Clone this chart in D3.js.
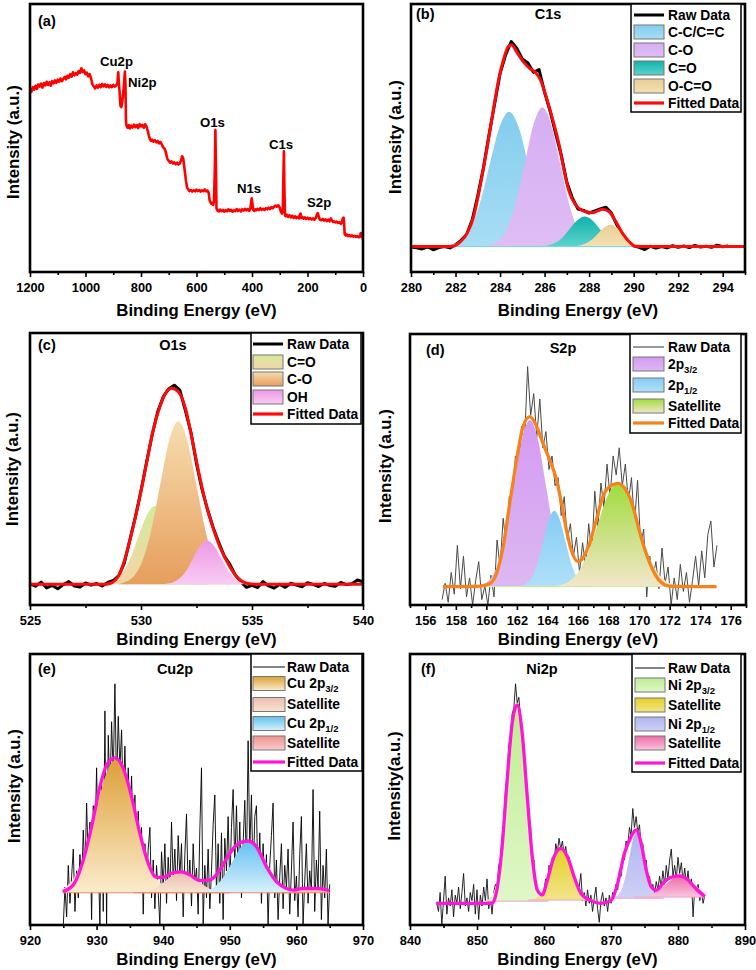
<!DOCTYPE html>
<html><head><meta charset="utf-8">
<script src="https://cdn.jsdelivr.net/npm/d3@7"></script>
<style>
body{margin:0;background:#fff}
svg{display:block;font-family:"Liberation Sans",Arial,sans-serif;font-weight:bold}
</style></head><body>
<svg id="fig" width="756" height="970"></svg>
<script>
// ================= DATA =================
// (a) survey spectrum: [binding energy, intensity]
const surveyPoints = [[1200,68.5],[1195,67.2],[1190,69.0],[1185,68.0],[1180,69.5],[1175,68.3],[1170,70.0],[1165,69.2],[1160,70.3],[1155,68.8],[1150,70.5],[1145,69.6],[1140,71.0],[1135,69.8],[1130,70.8],[1125,69.5],[1120,71.2],[1115,70.4],[1110,71.5],[1105,70.6],[1100,71.8],[1095,71.0],[1090,72.2],[1085,71.2],[1080,72.0],[1075,72.8],[1070,71.9],[1065,73.2],[1060,72.5],[1055,73.8],[1050,72.9],[1045,74.5],[1040,73.4],[1035,74.2],[1030,73.6],[1025,75.0],[1020,74.3],[1015,76.0],[1010,74.6],[1005,75.2],[1000,73.8],[995,74.4],[990,73.0],[985,73.8],[980,72.2],[975,70.0],[970,69.2],[965,68.5],[960,69.6],[955,68.8],[950,69.9],[945,69.0],[940,70.2],[935,69.3],[930,70.0],[925,69.1],[920,69.8],[915,68.9],[910,69.6],[905,69.0],[900,69.8],[895,69.2],[890,69.5],[885,70.5],[882,74.5],[880,71.0],[877,67.0],[874,62.0],[871,61.5],[868,63.0],[865,66.0],[862,69.0],[860,72.0],[858,74.8],[856,70.0],[854,56.0],[852,54.5],[848,53.8],[844,54.8],[840,53.6],[835,54.6],[830,53.9],[825,55.0],[820,54.1],[815,54.8],[810,53.7],[805,55.2],[800,54.3],[795,54.9],[790,53.8],[785,55.1],[780,54.2],[776,52.8],[772,51.0],[768,49.6],[764,48.9],[760,49.4],[755,48.6],[750,49.2],[745,48.4],[740,48.9],[735,48.0],[730,48.5],[725,47.6],[720,46.5],[715,46.0],[712,45.2],[708,43.5],[705,42.2],[700,41.5],[695,40.8],[690,41.3],[685,40.5],[680,40.9],[675,40.2],[670,40.8],[665,40.1],[660,40.6],[655,41.8],[652,43.2],[648,42.5],[645,40.0],[642,37.5],[638,34.0],[634,31.5],[630,30.8],[625,30.2],[620,30.6],[615,30.0],[610,30.5],[605,30.1],[600,30.7],[595,30.2],[590,30.6],[585,30.0],[580,30.5],[575,30.2],[570,30.8],[565,30.1],[560,30.4],[556,29.5],[553,27.0],[550,26.0],[547,25.5],[544,25.8],[540,25.0],[537,26.5],[534,38.0],[532,53.0],[530,40.0],[528,23.8],[525,23.0],[520,22.6],[515,23.3],[510,22.7],[505,23.2],[500,22.5],[495,23.1],[490,22.6],[485,23.4],[480,22.8],[475,23.2],[470,22.5],[465,23.0],[460,22.7],[455,23.5],[450,22.8],[445,23.3],[440,22.6],[435,23.4],[430,22.9],[425,23.6],[420,23.0],[415,23.5],[410,22.8],[406,23.6],[403,26.0],[401,27.5],[399,26.0],[396,23.3],[392,22.8],[388,23.4],[384,23.0],[380,23.6],[375,23.1],[370,23.8],[365,23.2],[360,23.6],[355,23.1],[350,23.8],[345,23.4],[340,24.0],[335,23.5],[330,24.2],[325,23.8],[320,24.4],[315,24.8],[310,24.4],[305,24.9],[300,24.0],[296,22.5],[292,21.8],[289,22.5],[287,35.0],[285,45.0],[283,30.0],[281,21.0],[278,20.8],[275,21.4],[270,20.6],[265,21.2],[260,20.4],[255,21.0],[250,20.2],[245,20.8],[240,20.1],[235,20.6],[230,20.0],[227,21.5],[225,21.8],[222,20.2],[218,20.5],[214,19.9],[210,20.4],[205,19.8],[200,20.3],[195,19.7],[190,20.1],[185,19.6],[180,20.0],[175,19.5],[170,20.2],[166,21.4],[163,22.0],[160,20.8],[156,19.6],[150,19.3],[145,19.8],[140,19.2],[135,19.6],[130,19.0],[125,19.5],[120,18.9],[116,20.0],[112,19.2],[108,18.7],[104,18.9],[100,18.5],[95,18.8],[90,18.3],[85,18.6],[80,18.0],[76,18.4],[73,20.0],[70,20.3],[68,18.0],[66,14.2],[62,13.6],[58,14.0],[54,13.4],[50,13.8],[45,13.3],[40,13.7],[35,13.2],[30,13.5],[25,13.1],[20,13.4],[15,12.9],[10,13.6],[8,14.5],[5,13.0],[2,12.8],[0,13.0]];
const surveyPeakLabels = ['Cu2p','Ni2p','O1s','C1s','N1s','S2p'];
const surveyTicks = [1200,1000,800,600,400,200,0];
const surveyMinorTicks = [1100,900,700,500,300,100];

// (b) C1s
const c1sRawStart = 280, c1sRawStep = 0.25;
const c1sRaw = [9.3,9.0,8.6,9.4,8.3,9.1,9.5,9.0,10.2,11.8,14.0,19.5,28.5,38.8,51.0,62.5,74.0,81.0,86.0,83.5,79.5,78.0,74.5,75.5,67.0,60.0,51.5,43.5,33.5,27.5,23.5,23.0,22.0,22.8,23.5,24.2,22.0,17.5,14.0,11.5,9.8,9.2,8.4,9.6,8.9,9.5,9.0,9.8,9.2,9.7,9.1,9.9,9.3,9.6,9.2,10.0,9.4,9.7];
const c1sFit = [[280,9.5],[281.5,9.5],[281.93,9.7],[282.22,11.3],[282.52,14.4],[282.81,20.6],[283.1,31.8],[283.4,45.5],[283.7,60.5],[283.93,71.6],[284.15,79.1],[284.37,84.1],[284.52,84.7],[284.74,82.2],[285.04,78.5],[285.33,76.0],[285.63,74.1],[285.85,71.0],[286.07,65.4],[286.37,56.7],[286.67,46.8],[286.9,36.8],[287.1,30.0],[287.4,25.0],[287.7,22.9],[288.15,22.1],[288.6,23.4],[288.9,22.5],[289.2,18.8],[289.5,14.4],[289.8,11.3],[290.07,9.6],[290.5,9.5],[295,9.5]];
const c1sNames = ['C-C/C=C','C-O','C=O','O-C=O'];
const c1sBase = [9.5,9.5,9.5,9.5];
const c1sComponents = [
  [[281.4,9.5],[281.8,10.1],[282.2,11.7],[282.66,16.3],[283.1,25.8],[283.53,40.0],[283.97,53.9],[284.4,59.8],[284.84,53.9],[285.27,40.0],[285.7,25.8],[286.14,16.3],[286.58,11.7],[287.0,10.1],[287.4,9.5]],
  [[283.2,9.5],[283.56,10.1],[283.95,11.8],[284.34,16.5],[284.73,26.4],[285.12,41.0],[285.51,55.3],[285.9,61.4],[286.29,55.3],[286.68,41.0],[287.07,26.4],[287.46,16.5],[287.85,11.8],[288.24,10.1],[288.6,9.5]],
  [[285.6,9.5],[285.85,9.6],[286.18,10.0],[286.5,11.0],[286.83,13.1],[287.15,16.3],[287.48,19.4],[287.8,20.7],[288.13,19.4],[288.45,16.3],[288.78,13.1],[289.1,11.0],[289.43,10.0],[289.75,9.6],[290.0,9.5]],
  [[287.2,9.5],[287.3,9.6],[287.6,9.9],[287.85,10.6],[288.13,12.1],[288.4,14.4],[288.68,16.6],[288.95,17.6],[289.23,16.6],[289.5,14.4],[289.78,12.1],[290.05,10.6],[290.33,9.9],[290.6,9.6],[290.8,9.5]]
];
const c1sTicks = [280,282,284,286,288,290,292,294];
const c1sMinorTicks = [281,283,285,287,289,291,293,295];

// (c) O1s
const o1sRawStart = 525, o1sRawStep = 0.25;
const o1sRaw = [7.8,6.9,8.4,6.3,7.2,6.0,7.5,8.6,7.0,6.6,8.1,7.3,7.9,7.0,8.3,9.0,10.8,15.5,24.0,32.5,42.0,52.5,62.5,71.0,76.5,79.5,80.8,79.0,71.5,63.5,52.0,42.5,35.0,28.5,23.0,18.0,15.0,11.0,8.5,6.5,7.2,6.4,8.6,7.0,6.2,7.6,6.5,8.0,7.3,6.7,8.2,7.6,6.8,7.9,7.2,6.9,8.3,7.5,7.8,9.2,8.5];
const o1sFit = [[525,7.6],[528.3,7.6],[528.6,7.9],[529.05,11.6],[529.35,19.0],[529.65,28.8],[529.95,39.8],[530.25,52.1],[530.55,64.3],[530.85,72.9],[531.15,78.4],[531.38,79.7],[531.68,78.4],[531.98,72.9],[532.28,61.9],[532.58,49.6],[532.88,38.6],[533.18,30.0],[533.55,21.4],[534.0,14.1],[534.38,9.8],[534.75,8.0],[535.2,7.6],[540,7.6]];
const o1sNames = ['C=O','C-O','OH'];
const o1sBase = [7.6,7.6,7.6];
const o1sComponents = [
  [[528.2,7.6],[528.38,7.9],[528.76,8.9],[529.13,11.5],[529.51,17.0],[529.88,25.1],[530.26,33.0],[530.63,36.4],[531.01,33.0],[531.38,25.1],[531.76,17.0],[532.13,11.5],[532.51,8.9],[532.88,7.9],[533.1,7.6]],
  [[528.9,7.6],[529.22,8.3],[529.63,10.2],[530.04,15.7],[530.45,27.1],[530.86,44.0],[531.27,60.6],[531.68,67.6],[532.09,60.6],[532.5,44.0],[532.91,27.1],[533.32,15.7],[533.73,10.2],[534.14,8.3],[534.5,7.6]],
  [[531.0,7.6],[531.12,7.8],[531.43,8.3],[531.74,9.8],[532.05,12.8],[532.36,17.4],[532.67,21.8],[532.98,23.7],[533.29,21.8],[533.6,17.4],[533.91,12.8],[534.22,9.8],[534.53,8.3],[534.84,7.8],[535.1,7.6]]
];
const o1sTicks = [525,530,535,540];
const o1sMinorTicks = [527.5,532.5,537.5];

// (d) S2p
const s2pRawStart = 157.1, s2pRawStep = 0.2;
const s2pRaw = [2,8,1,12,4,22,6,18,3,10,0,9,16,2,7,0,11,3,24,14,32,22,40,33,55,48,66,60,88,70,78,62,76,58,64,50,55,44,47,33,40,24,30,18,25,12,23,14,30,19,42,28,45,36,52,40,55,48,58,44,52,38,47,30,46,22,28,3,18,10,16,6,21,8,14,0,10,2,15,5,12,1,9,18,7,20,10,26,31,14,22];
const s2pFit = [[157.15,6.8],[159.6,7.0],[160.2,7.8],[160.67,11.7],[161.1,21.5],[161.5,36.3],[161.98,53.5],[162.4,65.8],[162.85,69.5],[163.3,65.8],[163.7,59.7],[164.15,53.5],[164.6,46.1],[164.9,38.1],[165.24,27.7],[165.56,20.3],[166.0,16.0],[166.3,17.2],[166.76,22.8],[167.2,31.4],[167.63,40.0],[168.07,43.7],[168.6,44.9],[169.15,42.4],[169.6,36.3],[170.0,27.7],[170.46,19.1],[170.9,12.9],[171.3,9.2],[172.0,7.0],[175.07,6.8]];
const s2pNames = [['2p','3/2'],['2p','1/2'],['Satellite','']];
const s2pBase = [6.8,6.8,6.8];
const s2pComponents = [
  [[159.4,6.8],[159.7,7.5],[160.23,9.5],[160.75,15.1],[161.28,26.8],[161.8,44.1],[162.33,61.1],[162.85,68.3],[163.38,61.1],[163.9,44.1],[164.43,26.8],[164.95,15.1],[165.48,9.5],[166.0,7.5],[166.3,6.8]],
  [[162.1,6.8],[162.29,7.1],[162.65,8.0],[163.01,10.6],[163.37,15.9],[163.73,23.8],[164.09,31.5],[164.45,34.8],[164.81,31.5],[165.17,23.8],[165.53,15.9],[165.89,10.6],[166.25,8.0],[166.61,7.1],[166.9,6.8]],
  [[164.3,6.8],[164.7,7.2],[165.35,8.5],[166.0,12.0],[166.65,19.2],[167.3,29.9],[167.95,40.4],[168.6,44.9],[169.25,40.4],[169.9,29.9],[170.55,19.2],[171.2,12.0],[171.85,8.5],[172.5,7.2],[172.9,6.8]]
];
const s2pTicks = [156,158,160,162,164,166,168,170,172,174,176];
const s2pMinorTicks = [155,157,159,161,163,165,167,169,171,173,175,177];

// (e) Cu2p
const cu2pRawStart = 925, cu2pRawStep = 0.25;
const cu2pRaw = [0,14,3,22,8,18,28,5,20,10,26,14,35,18,45,22,38,2,44,30,58,24,0,52,5,79,0,70,48,75,55,89,50,77,58,72,45,66,40,58,36,55,30,48,22,42,18,36,4,30,15,28,36,10,24,6,22,12,0,27,14,30,8,25,12,38,16,28,9,33,18,30,3,26,41,12,24,7,30,15,21,4,35,58,0,22,10,28,6,20,37,48,12,30,8,34,2,32,20,40,14,36,50,22,44,18,38,10,30,46,20,68,28,48,16,40,44,12,34,8,30,14,26,0,22,33,45,10,24,2,18,30,6,22,14,28,4,20,38,9,18,3,26,40,0,16,30,8,20,12,50,5,24,14,42,2,22,10,28,0,15];
const cu2pFit = [[924.9,12.3],[926.5,14.8],[928,24.0],[929.25,36.3],[930.5,51.0],[931.5,59.0],[932.75,61.7],[934,57.8],[935.25,47.4],[936.5,33.8],[937.75,22.8],[939,17.6],[940,17.6],[941.5,19.3],[942.75,19.6],[944,18.5],[945.5,16.4],[947,16.6],[948.5,20.3],[950,26.4],[951.5,30.4],[952.75,31.0],[954,28.9],[955.5,21.5],[957,16.0],[958.5,13.5],[959.5,12.9],[961,13.5],[963,13.5],[965,12.7]];
const cu2pNames = [['Cu 2p','3/2'],['Satellite',''],['Cu 2p','1/2'],['Satellite','']];
const cu2pBase = [11.9,11.9,11.9,11.9];
const cu2pComponents = [
  [[925.0,13.4],[925.43,14.1],[926.9,18.5],[928.38,27.8],[929.85,41.6],[931.33,55.1],[932.8,60.9],[934.28,55.1],[935.75,41.6],[937.23,27.8],[938.7,18.5],[940.18,14.1],[941.65,12.4],[943.0,11.9]],
  [[935.5,11.9],[935.9,12.0],[937.05,12.2],[938.2,12.9],[939.35,14.4],[940.5,16.6],[941.65,18.7],[942.8,19.6],[943.95,18.7],[945.1,16.6],[946.25,14.4],[947.4,12.9],[948.55,12.2],[949.7,12.0],[950.1,11.9]],
  [[944.9,11.9],[945.4,12.1],[946.65,12.7],[947.9,14.5],[949.15,18.1],[950.4,23.4],[951.65,28.7],[952.9,30.9],[954.15,28.7],[955.4,23.4],[956.65,18.1],[957.9,14.5],[959.15,12.7],[960.4,12.1],[961.0,11.9]],
  [[957.5,11.9],[958.3,12.0],[959.1,12.1],[959.9,12.4],[960.7,12.9],[961.5,13.3],[962.3,13.5],[963.1,13.3],[963.9,12.9],[964.7,12.4],[965.0,12.2]]
];
const cu2pTicks = [920,930,940,950,960,970];
const cu2pMinorTicks = [925,935,945,955,965];

// (f) Ni2p
const ni2pRawStart = 844, ni2pRawStep = 0.25;
const ni2pRaw = [8,5,12,0,9,18,4,10,7,13,3,11,8,14,6,12,19,7,10,5,12,9,15,4,13,2,11,7,14,9,17,6,10,4,12,15,14,22,24,33,38,50,55,66,70,78,80,89,82,84,76,72,62,56,50,38,36,22,24,13,15,9,12,10,13,17,14,22,19,25,22,30,27,32,28,31,26,29,22,25,18,21,15,17,11,14,19,9,12,7,13,8,11,5,10,14,6,1,9,12,7,10,5,11,8,12,10,15,13,20,18,25,24,31,29,36,33,43,36,40,34,37,29,30,22,24,16,18,13,15,11,16,13,18,14,20,15,22,17,24,28,18,22,17,25,19,23,16,21,15,20,13,17,3,14,11,15,9,12,8,11];
const ni2pFit = [[843.9,8.0],[852.25,8.0],[853,13.4],[853.75,28.9],[854.5,53.5],[855.25,74.4],[856,81.2],[856.75,70.7],[857.5,47.4],[858.25,25.2],[859,12.9],[859.75,11.1],[860.5,16.6],[861.5,25.2],[862.5,28.3],[863.5,25.2],[864.5,17.8],[865.5,11.7],[867,9.0],[868.5,8.0],[870,9.0],[871,15.4],[872,26.4],[873,32.6],[873.75,35.1],[874.5,30.1],[875.25,20.3],[876,14.1],[876.75,12.9],[878,16.0],[879,17.6],[880.25,18.1],[881.5,16.6],[882.75,13.2],[884,10.5]];
const ni2pNames = [['Ni 2p','3/2'],['Satellite',''],['Ni 2p','1/2'],['Satellite','']];
const ni2pBase = [8.8,9.2,9.9,10.3];
const ni2pComponents = [
  [[851.3,8.8],[851.8,9.6],[852.5,12.0],[853.2,18.6],[853.9,32.3],[854.6,52.7],[855.3,72.7],[856.0,81.2],[856.7,72.7],[857.4,52.7],[858.1,32.3],[858.8,18.6],[859.5,12.0],[860.2,9.6],[860.7,8.8]],
  [[857.6,9.2],[858.1,9.4],[858.85,10.0],[859.6,11.8],[860.35,15.4],[861.1,20.8],[861.85,26.1],[862.6,28.3],[863.35,26.1],[864.1,20.8],[864.85,15.4],[865.6,11.8],[866.35,10.0],[867.1,9.4],[867.6,9.2]],
  [[869.9,9.9],[870.45,10.2],[871.03,11.0],[871.6,13.3],[872.18,18.1],[872.75,25.2],[873.33,32.1],[873.9,35.1],[874.48,32.1],[875.05,25.2],[875.63,18.1],[876.2,13.3],[876.78,11.0],[877.35,10.2],[877.9,9.9]],
  [[873.5,10.3],[874.0,10.4],[875.05,10.6],[876.1,11.4],[877.15,12.8],[878.2,15.0],[879.25,17.2],[880.3,18.1],[881.35,17.2],[882.4,15.0],[883.45,12.8],[884.0,11.9]]
];
const ni2pTicks = [840,850,860,870,880,890];
const ni2pMinorTicks = [845,855,865,875,885];

// ================= STYLES =================
const c1sFills = [['#83cdee','#a8ddf5'],['#d6aef2','#dfbdf5'],['#0fb3ab','#5dd3cc'],['#e9cf92','#f3e1b5']];
const o1sFills = [['#d3eb9c','#f3d5a6'],['#f7ddb0','#e69e5c'],['#ee98e6','#f8ccf2']];
const s2pFills = [['#d49af3','#ddb8f1'],['#84ccf4','#b0e0f8'],['#9fdc3c','#f3e6cb']];
const cu2pFills = [['#dea038','#fbeccd'],['#edbcb0','#f7e4d2'],['#62c0f1','#d8f1fb'],['#ef9090','#f9cccc']];
const ni2pFills = [['#bfed94','#e0f7c8'],['#e4cf25','#f1e58a'],['#b1b4ef','#cdd0f6'],['#ef6aa5','#f9c6df']];

// ================= DRAW =================
const svg = d3.select('#fig');
svg.append('rect').attr('width',756).attr('height',970).attr('fill','#fff');
const defs = svg.append('defs');
let gid = 0;
function grad(c){
  const id = 'grad'+(gid++);
  const g = defs.append('linearGradient').attr('id',id).attr('x1',0).attr('y1',0).attr('x2',0).attr('y2',1);
  g.append('stop').attr('offset','0%').attr('stop-color',c[0]);
  g.append('stop').attr('offset','100%').attr('stop-color',c[1]);
  return 'url(#'+id+')';
}
function rawPoints(start, step, vals){ return vals.map((v,i)=>[start+i*step, v]); }

function panel(p){
  const x = d3.scaleLinear().domain(p.domain).range([p.x0,p.x1]);
  const y = d3.scaleLinear().domain([0,100]).range([p.y1,p.y0]);
  const cid = 'clip'+p.key;
  defs.append('clipPath').attr('id',cid).append('rect')
    .attr('x',p.x0).attr('y',p.y0).attr('width',p.x1-p.x0).attr('height',p.y1-p.y0);
  const g = svg.append('g');
  const plot = g.append('g').attr('clip-path','url(#'+cid+')');
  const line = d3.line().x(d=>x(d[0])).y(d=>y(d[1]));
  const smooth = d3.line().curve(d3.curveMonotoneX).x(d=>x(d[0])).y(d=>y(d[1]));
  if (p.raw) plot.append('path').datum(p.raw).attr('d',line).attr('fill','none')
      .attr('stroke',p.rawColor).attr('stroke-width',p.rawWidth).attr('stroke-linejoin','round');
  const fills = [];
  (p.comps||[]).forEach((c,i)=>{
    const f = grad(p.fills[i]); fills.push(f);
    const area = d3.area().curve(d3.curveMonotoneX).x(d=>x(d[0])).y0(y(p.bases[i])).y1(d=>y(d[1]));
    plot.append('path').datum(c).attr('d',area).attr('fill',f);
  });
  if (p.comps && p.baseColor){
    p.comps.forEach((c,i)=>{
      plot.append('line').attr('x1',x(c[0][0])).attr('x2',x(c[c.length-1][0]))
        .attr('y1',y(p.bases[i])).attr('y2',y(p.bases[i])).attr('stroke',p.baseColor).attr('stroke-width',1);
    });
  }
  if (p.fit) plot.append('path').datum(p.fit).attr('d',smooth).attr('fill','none')
      .attr('stroke',p.fitColor).attr('stroke-width',p.fitWidth).attr('stroke-linejoin','round');
  if (p.survey) plot.append('path').datum(p.survey).attr('d',line).attr('fill','none')
      .attr('stroke','#ff0000').attr('stroke-width',2.6).attr('stroke-linejoin','round');

  // axes
  const gm = g.append('g').attr('transform','translate(0,'+p.y1+')')
    .call(d3.axisBottom(x).tickValues(p.minor).tickSize(3).tickFormat(''));
  const gM = g.append('g').attr('transform','translate(0,'+p.y1+')')
    .call(d3.axisBottom(x).tickValues(p.major).tickSize(5).tickPadding(6).tickFormat(d3.format('d')));
  [gm,gM].forEach(a=>{
    a.select('.domain').remove();
    a.selectAll('line').attr('stroke','#000').attr('stroke-width',1.6);
    a.selectAll('text').attr('font-size','12.8px').attr('font-weight','bold')
      .attr('font-family','"Liberation Sans",Arial,sans-serif').attr('fill','#000');
  });
  // frame
  g.append('rect').attr('x',p.x0).attr('y',p.y0).attr('width',p.x1-p.x0).attr('height',p.y1-p.y0)
    .attr('fill','none').attr('stroke','#000').attr('stroke-width',2.6);
  // titles
  g.append('text').attr('x',(p.x0+p.x1)/2).attr('y',p.y1+p.xtDy).attr('text-anchor','middle')
    .attr('font-size','16.8px').text('Binding Energy (eV)');
  g.append('text').attr('transform','translate('+p.ytX+','+p.ytY+') rotate(-90)')
    .attr('text-anchor','middle').attr('dy','0.35em').attr('font-size','16.8px').text(p.ytitle);
  g.append('text').attr('x',p.lab[0]).attr('y',p.lab[1]).attr('font-size','14.5px').text(p.label);
  if (p.title) g.append('text').attr('x',p.tit[0]).attr('y',p.tit[1]).attr('text-anchor','middle')
      .attr('font-size','14.5px').text(p.title);

  // legend
  if (p.legend){
    const L = p.legend;
    g.append('rect').attr('x',L.x0).attr('y',p.y0).attr('width',L.x1-L.x0).attr('height',L.y1-p.y0)
      .attr('fill','#fff').attr('stroke','#000').attr('stroke-width',1.5);
    L.rows.forEach((r,i)=>{
      const cy = p.y0 + r;
      let name, sub='';
      if (i===0){
        name='Raw Data';
        g.append('line').attr('x1',L.sx).attr('x2',L.sx+L.sw).attr('y1',cy).attr('y2',cy)
          .attr('stroke',p.legRawColor).attr('stroke-width',p.legRawWidth);
      } else if (i===L.rows.length-1){
        name='Fitted Data';
        g.append('line').attr('x1',L.sx).attr('x2',L.sx+L.sw).attr('y1',cy).attr('y2',cy)
          .attr('stroke',p.fitColor).attr('stroke-width',3.2);
      } else {
        const n = p.names[i-1];
        if (Array.isArray(n)){ name=n[0]; sub=n[1]; } else name=n;
        g.append('rect').attr('x',L.sx).attr('y',cy-7).attr('width',L.sw).attr('height',14)
          .attr('fill',fills[i-1]).attr('stroke','#777').attr('stroke-width',1);
      }
      const t = g.append('text').attr('x',L.tx).attr('y',cy).attr('dy','0.36em').attr('font-size','13.8px');
      t.append('tspan').text(name);
      if (sub) t.append('tspan').attr('font-size','9.5px').attr('dy','4').text(sub);
    });
  }
  return {x,y,g};
}

// (a)
const A = panel({key:'a',x0:30,x1:363,y0:4,y1:272,domain:[1200,0],major:surveyTicks,minor:surveyMinorTicks,
  survey:surveyPoints,xtDy:44,ytX:13,ytY:142,ytitle:'Intensity (a.u.)',label:'(a)',lab:[38,26]});
const surveyLabelPos = [[100,66],[128,87],[200,127],[269,149],[237,193],[307,207]];
surveyPeakLabels.forEach((s,i)=>{
  A.g.append('text').attr('x',surveyLabelPos[i][0]).attr('y',surveyLabelPos[i][1]).attr('font-size','13.2px').text(s);
});

// (b)
panel({key:'b',x0:411,x1:745,y0:4,y1:272,domain:[280,295],major:c1sTicks,minor:c1sMinorTicks,
  raw:rawPoints(c1sRawStart,c1sRawStep,c1sRaw),rawColor:'#000',rawWidth:3,
  comps:c1sComponents,bases:c1sBase,fills:c1sFills,names:c1sNames,baseColor:'#7fd6e6',
  fit:c1sFit,fitColor:'#ff0a0a',fitWidth:3,legRawColor:'#000',legRawWidth:3,
  xtDy:44,ytX:395,ytY:137,ytitle:'Intensity (a.u.)',label:'(b)',lab:[416,19],title:'C1s',tit:[548,19],
  legend:{x0:631,x1:741,y1:112,sx:634,sw:30,tx:668,rows:[11,28,46,64,82,99]}});

// (c)
panel({key:'c',x0:30,x1:363,y0:333,y1:605,domain:[525,540],major:o1sTicks,minor:o1sMinorTicks,
  raw:rawPoints(o1sRawStart,o1sRawStep,o1sRaw),rawColor:'#000',rawWidth:3,
  comps:o1sComponents,bases:o1sBase,fills:o1sFills,names:o1sNames,
  fit:o1sFit,fitColor:'#ff0a0a',fitWidth:3,legRawColor:'#000',legRawWidth:3,
  xtDy:40,ytX:12,ytY:469,ytitle:'Intensity (a.u.)',label:'(c)',lab:[38,350],title:'O1s',tit:[173,350],
  legend:{x0:251,x1:361,y1:424,sx:253,sw:30,tx:287,rows:[11,29,46,64,81]}});

// (d)
panel({key:'d',x0:410,x1:746,y0:334,y1:605,domain:[155,177],major:s2pTicks,minor:s2pMinorTicks,
  raw:rawPoints(s2pRawStart,s2pRawStep,s2pRaw),rawColor:'#4a4a4a',rawWidth:1,
  comps:s2pComponents,bases:s2pBase,fills:s2pFills,names:s2pNames,baseColor:'#c8eca0',
  fit:s2pFit,fitColor:'#f7821b',fitWidth:3.3,legRawColor:'#555',legRawWidth:1.2,
  xtDy:40,ytX:385,ytY:466,ytitle:'Intensity (a.u.)',label:'(d)',lab:[426,355],title:'S2p',tit:[563,353],
  legend:{x0:630,x1:741,y1:433,sx:633,sw:31,tx:668,rows:[13,30,51,72,89]}});

// (e)
panel({key:'e',x0:30,x1:363,y0:654,y1:925,domain:[920,970],major:cu2pTicks,minor:cu2pMinorTicks,
  raw:rawPoints(cu2pRawStart,cu2pRawStep,cu2pRaw),rawColor:'#000',rawWidth:0.9,
  comps:cu2pComponents,bases:cu2pBase,fills:cu2pFills,names:cu2pNames,baseColor:'#f08a6a',
  fit:cu2pFit,fitColor:'#ff14d8',fitWidth:3.3,legRawColor:'#333',legRawWidth:1.2,
  xtDy:40,ytX:14,ytY:786,ytitle:'Intensity (a.u.)',label:'(e)',lab:[38,674],title:'Cu2p',tit:[175,674],
  legend:{x0:251,x1:362,y1:771,sx:253,sw:32,tx:287,rows:[13,29.5,50.5,69.5,89,108]}});

// (f)
panel({key:'f',x0:410,x1:745,y0:654,y1:925,domain:[840,890],major:ni2pTicks,minor:ni2pMinorTicks,
  raw:rawPoints(ni2pRawStart,ni2pRawStep,ni2pRaw),rawColor:'#111',rawWidth:0.9,
  comps:ni2pComponents,bases:ni2pBase,fills:ni2pFills,names:ni2pNames,baseColor:'#f4a0c8',
  fit:ni2pFit,fitColor:'#ff14d8',fitWidth:3.3,legRawColor:'#333',legRawWidth:1.2,
  xtDy:40,ytX:394,ytY:786,ytitle:'Intensity(a.u.)',label:'(f)',lab:[421,674],title:'Ni2p',tit:[542,674],
  legend:{x0:632,x1:741,y1:772,sx:635,sw:30,tx:668,rows:[14,31,51,70,89,109]}});
</script>
</body></html>
